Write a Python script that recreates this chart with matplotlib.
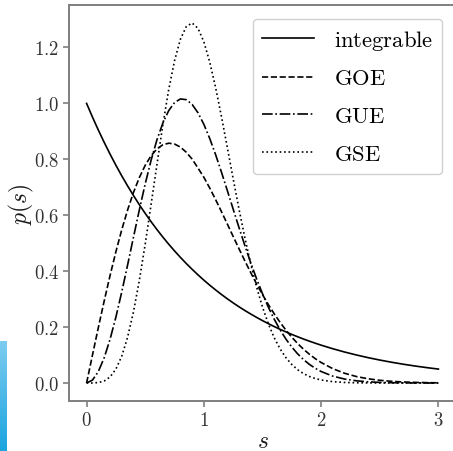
import numpy as np
import matplotlib
matplotlib.use("Agg")
import matplotlib.pyplot as plt
from matplotlib.ticker import FuncFormatter, MultipleLocator
from matplotlib.colors import LinearSegmentedColormap

plt.rcParams['mathtext.fontset'] = 'cm'
plt.rcParams['font.family'] = ['DejaVu Serif']

# spacing values s
s = [0.0, 0.05, 0.1, 0.15, 0.2, 0.25, 0.3, 0.35, 0.4, 0.45, 0.5, 0.55, 0.6, 0.65, 0.7,
     0.75, 0.8, 0.85, 0.9, 0.95, 1.0, 1.05, 1.1, 1.15, 1.2, 1.25, 1.3, 1.35, 1.4, 1.45,
     1.5, 1.55, 1.6, 1.65, 1.7, 1.75, 1.8, 1.85, 1.9, 1.95, 2.0, 2.1, 2.2, 2.3, 2.4, 2.5,
     2.6, 2.7, 2.8, 2.9, 3.0]

integrable = [1.0, 0.9512, 0.9048, 0.8607, 0.8187, 0.7788, 0.7408, 0.7047, 0.6703, 0.6376,
              0.6065, 0.5769, 0.5488, 0.5220, 0.4966, 0.4724, 0.4493, 0.4274, 0.4066, 0.3867,
              0.3679, 0.3499, 0.3329, 0.3166, 0.3012, 0.2865, 0.2725, 0.2592, 0.2466, 0.2346,
              0.2231, 0.2122, 0.2019, 0.1920, 0.1827, 0.1738, 0.1653, 0.1572, 0.1496, 0.1423,
              0.1353, 0.1225, 0.1108, 0.1003, 0.0907, 0.0821, 0.0743, 0.0672, 0.0608, 0.0550,
              0.0498]

goe = [0.0, 0.0998, 0.1980, 0.2933, 0.3843, 0.4697, 0.5484, 0.6193, 0.6817, 0.7350,
       0.7788, 0.8129, 0.8372, 0.8520, 0.8577, 0.8547, 0.8437, 0.8254, 0.8007, 0.7687,
       0.7358, 0.6973, 0.6560, 0.6129, 0.5686, 0.5240, 0.4798, 0.4364, 0.3944, 0.3542,
       0.3162, 0.2805, 0.2474, 0.2168, 0.1890, 0.1637, 0.1410, 0.1207, 0.1028, 0.0870,
       0.0733, 0.0511, 0.0348, 0.0232, 0.0151, 0.0097, 0.0060, 0.0037, 0.0022, 0.0013,
       0.0007]

gue = [0.0, 0.0103, 0.0408, 0.0902, 0.1562, 0.2359, 0.3260, 0.4226, 0.5218, 0.6196,
       0.7124, 0.7967, 0.8698, 0.9294, 0.9741, 1.0030, 1.0160, 1.0134, 0.9964, 0.9664,
       0.9251, 0.8746, 0.8169, 0.7542, 0.6885, 0.6217, 0.5554, 0.4910, 0.4296, 0.3721,
       0.3192, 0.2711, 0.2281, 0.1901, 0.1570, 0.1284, 0.1041, 0.0836, 0.0666, 0.0525,
       0.0411, 0.0245, 0.0141, 0.0079, 0.0042, 0.0022, 0.0011, 0.0005, 0.0003, 0.0001,
       0.0001]

gse = [0.0, 0.0001, 0.0015, 0.0071, 0.0215, 0.0497, 0.0962, 0.1643, 0.2551, 0.3675,
       0.4974, 0.6386, 0.7815, 0.9229, 1.0486, 1.1528, 1.2295, 1.2749, 1.2876, 1.2684,
       1.2204, 1.1481, 1.0570, 0.9531, 0.8424, 0.7302, 0.6211, 0.5186, 0.4253, 0.3427,
       0.2715, 0.2115, 0.1619, 0.1220, 0.0905, 0.0660, 0.0474, 0.0336, 0.0233, 0.0160,
       0.0108, 0.0047, 0.0020, 0.0008, 0.0003, 0.0001, 0.0, 0.0, 0.0, 0.0, 0.0]

labels = [r'$\mathrm{integrable}$', r'$\mathrm{GOE}$', r'$\mathrm{GUE}$', r'$\mathrm{GSE}$']

fig = plt.figure(figsize=(4.53, 4.52), dpi=100)
ax = fig.add_axes([69/453, 50/452, 387/453, 396/452])

lw = 1.2
ax.plot(s, integrable, color='black', lw=lw, ls='-', label=labels[0])
ax.plot(s, goe, color='black', lw=lw, ls='--', label=labels[1])
ax.plot(s, gue, color='black', lw=lw, ls='-.', label=labels[2])
ax.plot(s, gse, color='black', lw=lw, ls=':', label=labels[3])

ax.xaxis.set_major_locator(MultipleLocator(1))
ax.yaxis.set_major_locator(MultipleLocator(0.2))
ax.xaxis.set_major_formatter(FuncFormatter(lambda v, p: r'$%d$' % round(v)))
ax.yaxis.set_major_formatter(FuncFormatter(lambda v, p: r'$%.1f$' % v))

for sp in ax.spines.values():
    sp.set_color('#7f7f7f')
    sp.set_linewidth(1.4)
ax.tick_params(colors='#7f7f7f', length=4, width=1.2, labelcolor='#333333', labelsize=13.5, pad=3)

ax.set_xlabel(r'$s$', fontsize=17, labelpad=0, color='#1a1a1a')
ax.set_ylabel(r'$p(s)$', fontsize=17, labelpad=-1.5, color='#1a1a1a')

leg = ax.legend(loc='upper right', fontsize=16.3, handlelength=2.3, handletextpad=0.9,
                labelspacing=0.7, borderaxespad=0.6, fancybox=True, framealpha=1)
leg.get_frame().set_edgecolor('#d0d0d0')

# blue strip at lower-left edge of the picture
bax = fig.add_axes([0, 0, 7/453, 110/452])
grad = np.linspace(0, 1, 100).reshape(-1, 1)
cm = LinearSegmentedColormap.from_list('b', ['#7dccf0', '#1ba4df'])
bax.imshow(grad, aspect='auto', cmap=cm)
bax.axis('off')

fig.savefig('out.png', dpi=100)
